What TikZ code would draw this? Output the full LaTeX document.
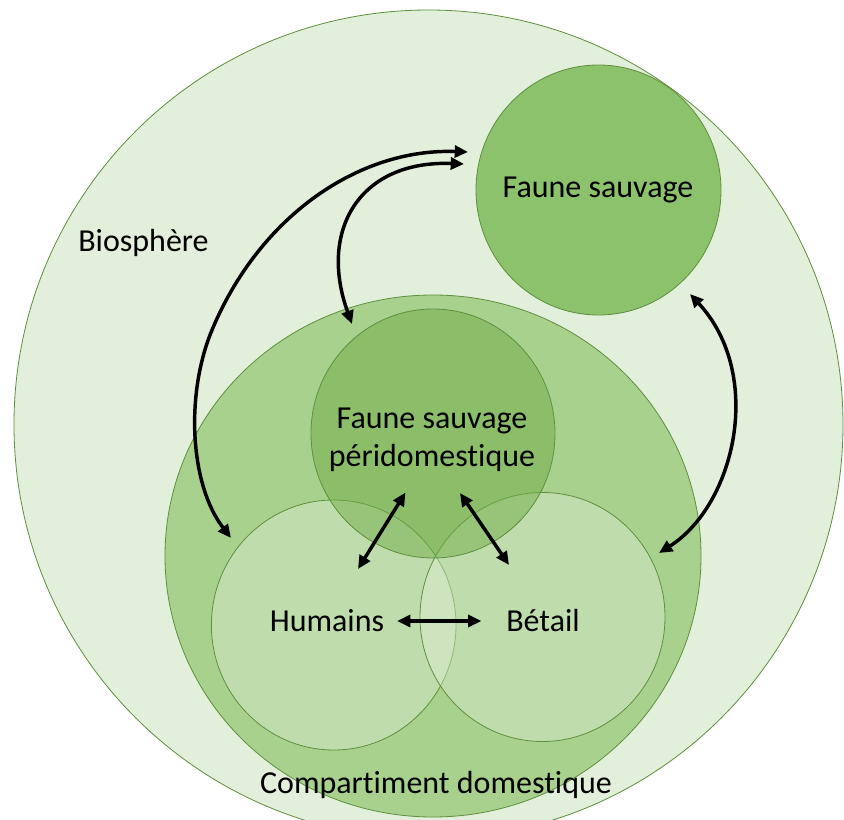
\documentclass[tikz,border=0pt]{standalone}
\usepackage{fontspec}
\setmainfont{Carlito}[Ligatures=NoCommon]
\usepackage{tikz}
\usetikzlibrary{arrows.meta}

\definecolor{bioFill}{HTML}{E2EFDA}
\definecolor{domFill}{HTML}{A9D18E}
\definecolor{fsFill}{HTML}{8DC26C}
\definecolor{periFill}{HTML}{70AD47}
\definecolor{hbFill}{HTML}{E2F0D9}
\definecolor{rim}{HTML}{5E8F3E}

\tikzset{
  zone/.style={draw=rim, line width=0.6pt},
  lbl/.style={inner sep=0.75pt, align=center, font=\fontsize{24}{28.5}\selectfont},
  link/.style={{Triangle[length=10pt,width=9pt]}-{Triangle[length=10pt,width=9pt]}, line width=2.6pt, black}
}

\begin{document}
\begin{tikzpicture}[x=0.75pt,y=0.75pt,yscale=-1,xscale=1]
\clip (0,0) rectangle (844,820);
\fill [white] (0,0) rectangle (844,820);

%Shape: Circle (biosphere)
\draw [zone, fill=bioFill] (428.5,424.5) circle (414.5);
%Shape: Circle (faune sauvage)
\draw [zone, fill=fsFill] (598.5,190) ellipse (122.5 and 125);
%Shape: Circle (compartiment)
\draw [zone, fill=domFill] (433,556) ellipse (268 and 261);
%Shape: Circle (humains)
\draw [zone, fill=hbFill, fill opacity=0.4] (333.7,625) ellipse (122.3 and 125);
%Shape: Circle (betail)
\draw [zone, fill=hbFill, fill opacity=0.4] (542.5,617) ellipse (122.5 and 124.5);
%Shape: Circle (peridomestique)
\draw [zone, fill=periFill, fill opacity=0.5] (433,433.5) ellipse (122 and 124.5);

% arrow ends
\coordinate (fsA) at (468,152);
\coordinate (fsB) at (464,164);
\coordinate (fsC) at (690,294);
\coordinate (huA) at (231,538);
\coordinate (peA) at (352,324);
\coordinate (beA) at (659,553);
\coordinate (peH) at (405.5,492.5);
\coordinate (huP) at (358,569);
\coordinate (peB) at (460,493);
\coordinate (beP) at (509,565);
\coordinate (huB) at (397,621);
\coordinate (beH) at (481.5,621);

%Curve Lines
\draw [link] (fsA) .. controls (360,148) and (260,215) .. (212,330) .. controls (185,395) and (190,485) .. (huA);
%Curve Lines
\draw [link] (fsB) .. controls (360,160) and (318,230) .. (peA);
%Curve Lines
\draw [link] (fsC) .. controls (765,375) and (735,505) .. (beA);
%Straight Lines
\draw [link] (peH) -- (huP);
\draw [link] (peB) -- (beP);
\draw [link] (huB) -- (beH);

% Text Node
\node [lbl] (bio) at (143.5,243) {Biosphère};
% Text Node
\node [lbl] (fs) at (598,190) {Faune sauvage};
% Text Node
\node [lbl] (peri) at (432,440) {Faune sauvage\\péridomestique};
% Text Node
\node [lbl] (hu) at (327,621) {Humains};
% Text Node
\node [lbl] (be) at (543,621) {Bétail};
% Text Node
\node [lbl] (dom) at (436,785) {Compartiment domestique};
\end{tikzpicture}
\end{document}
